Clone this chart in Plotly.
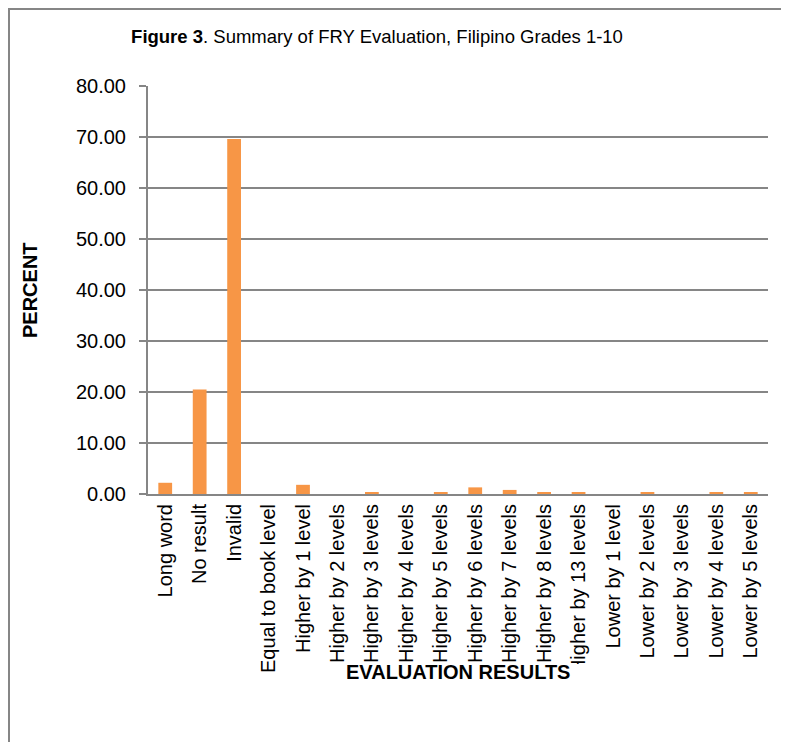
"""
Summary of FRY evaluation, Filipino grades 1-10, as a single bar chart.
"""
import plotly.graph_objects as go

categories = [
    "Long word", "No result", "Invalid", "Equal to book level",
    "Higher by 1 level", "Higher by 2 levels", "Higher by 3 levels",
    "Higher by 4 levels", "Higher by 5 levels", "Higher by 6 levels",
    "Higher by 7 levels", "Higher by 8 levels", "Higher by 13 levels",
    "Lower by 1 level", "Lower by 2 levels", "Lower by 3 levels",
    "Lower by 4 levels", "Lower by 5 levels",
]
percent = [
    2.2, 20.5, 69.6, 0.0,
    1.8, 0.0, 0.3,
    0.0, 0.3, 1.3,
    0.8, 0.3, 0.3,
    0.0, 0.3, 0.0,
    0.3, 0.3,
]
y_ticks = [0, 10, 20, 30, 40, 50, 60, 70, 80]

BAR = "#F79646"
GREY = "#868686"
SANS = "Liberation Sans, Arial, sans-serif"

fig = go.Figure(go.Bar(x=categories, y=percent, marker_color=BAR, marker_line_width=0))

# the page body adds an 8px margin, so the figure is drawn 8px in from the corner
OFF = 8
FIG_W, FIG_H = 789 - OFF, 742 - OFF
# plot area in page pixels: x 148..768, y 86..494
L, R, T, B = 148, 768, 86, 494
W, H = R - L, B - T


def px(x):
    return (x - L) / W


def py(y):
    return (B - y) / H


fig.update_layout(
    width=FIG_W,
    height=FIG_H,
    margin=dict(l=L - OFF, r=789 - R, t=T - OFF, b=742 - B),
    paper_bgcolor="white",
    plot_bgcolor="white",
    bargap=0.6,
    showlegend=False,
    title=dict(
        text="<b>Figure 3</b>. Summary of FRY Evaluation, Filipino Grades 1-10",
        x=(377 - OFF) / FIG_W, xanchor="center",
        y=1 - (37 - OFF) / FIG_H, yanchor="middle",
        font=dict(family=SANS, size=18.5, color="black"),
    ),
    xaxis=dict(
        automargin=False,
        tickangle=-90,
        tickfont=dict(family=SANS, size=20, color="black"),
        showline=True, linecolor=GREY, linewidth=2,
        showgrid=False, ticks="",
    ),
    yaxis=dict(
        automargin=False,
        range=[0, 80],
        tickvals=y_ticks,
        tickformat=".2f",
        tickfont=dict(family=SANS, size=20, color="black"),
        showline=True, linecolor=GREY, linewidth=2,
        showgrid=True, gridcolor=GREY, gridwidth=1.5,
        ticks="outside", ticklen=7, tickcolor=GREY, tickwidth=2,
        ticklabelstandoff=9,
        zeroline=False,
    ),
    annotations=[
        dict(text="<b>PERCENT</b>", xref="paper", yref="paper",
             x=px(30), y=py(290), xanchor="center", yanchor="middle",
             textangle=-90, showarrow=False,
             font=dict(family=SANS, size=20, color="black")),
        dict(text="<b>EVALUATION RESULTS</b>", xref="paper", yref="paper",
             x=px(458), y=py(672), xanchor="center", yanchor="middle",
             showarrow=False,
             font=dict(family=SANS, size=20, color="black")),
    ],
    shapes=[
        # outer frame (only its left and top edges fall inside the page)
        dict(type="rect", xref="paper", yref="paper",
             x0=px(OFF + 1), x1=px(820), y0=py(780), y1=py(OFF + 1),
             line=dict(color=GREY, width=2), layer="below"),
        # long category labels are clipped where the axis title sits
        dict(type="rect", xref="paper", yref="paper",
             x0=px(346), x1=px(592), y0=py(690), y1=py(664),
             fillcolor="white", line=dict(width=0), layer="above"),
    ],
)

fig.write_html("out.html")
